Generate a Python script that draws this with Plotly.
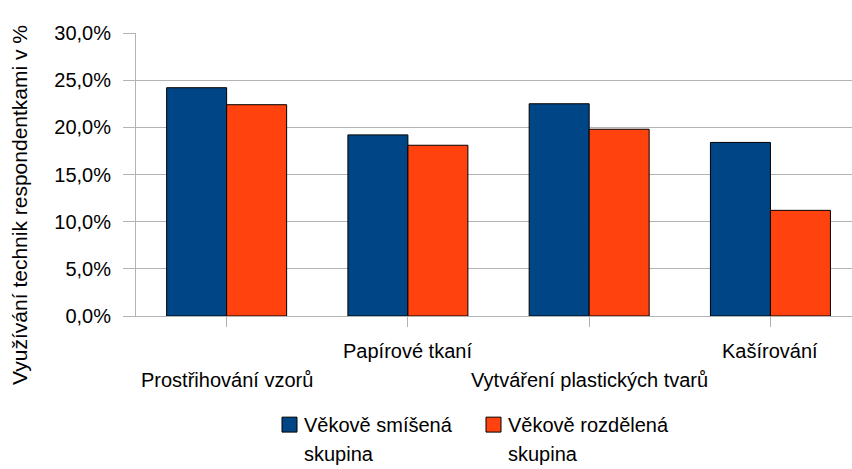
import plotly.graph_objects as go

categories = ["Prostřihování vzorů", "Papírové tkaní", "Vytváření plastických tvarů", "Kašírování"]
series_names = ["Věkově smíšená skupina", "Věkově rozdělená skupina"]
legend_lines = [["Věkově smíšená", "skupina"], ["Věkově rozdělená", "skupina"]]
mixed = [24.2, 19.2, 22.5, 18.4]
split = [22.4, 18.1, 19.8, 11.2]
colors = ["#004586", "#ff420e"]
y_title = "Využívání technik respondentkami v %"

FONT = "Liberation Sans, Arial, sans-serif"

# plot area geometry (pixels)
L, T, B, W, H = 136, 32.5, 316.5, 716, 284
def px(x):
    return (x - L) / W
def py(y):
    return (B - y) / H

fig = go.Figure()
for name, vals, col in zip(series_names, [mixed, split], colors):
    fig.add_trace(go.Bar(
        x=list(range(len(categories))), y=vals, name=name,
        marker=dict(color=col, line=dict(color="#000000", width=1)),
        showlegend=False,
    ))

annotations = [dict(text=y_title, textangle=-90, xref="paper", yref="paper",
                    x=px(20), y=py(205), xanchor="center", yanchor="middle",
                    showarrow=False, font=dict(size=21, family=FONT))]
# staggered category labels
for i, c in enumerate(categories):
    row_y = 381 if i % 2 == 0 else 352
    annotations.append(dict(text=c, xref="x", yref="paper", x=i, y=py(row_y),
                            xanchor="center", yanchor="middle", showarrow=False,
                            font=dict(size=20, family=FONT)))

shapes = []
legend_x = [282, 486]
for k, (lines, col) in enumerate(zip(legend_lines, colors)):
    x0 = legend_x[k]
    shapes.append(dict(type="rect", xref="paper", yref="paper",
                       x0=px(x0), x1=px(x0 + 15), y0=py(433), y1=py(418),
                       fillcolor=col, line=dict(color="#000000", width=1)))
    for j, ln in enumerate(lines):
        annotations.append(dict(text=ln, xref="paper", yref="paper",
                                x=px(x0 + 20), y=py(426 + 29 * j),
                                xanchor="left", yanchor="middle", showarrow=False,
                                font=dict(size=20, family=FONT)))

fig.update_layout(
    width=852, height=469,
    margin=dict(l=136, r=0, t=32.5, b=152.5, autoexpand=False),
    paper_bgcolor="white", plot_bgcolor="white",
    barmode="group", bargap=0.338, bargroupgap=0,
    separators=", ",
    font=dict(family=FONT, size=20, color="#000000"),
    showlegend=False,
    annotations=annotations,
    shapes=shapes,
)
fig.update_xaxes(
    tickmode="array", tickvals=list(range(len(categories))),
    ticktext=["" for _ in categories],
    range=[-0.5, 3.45], tickson="boundaries", ticks="outside", ticklen=10,
    tickcolor="#b3b3b3", showline=True, linecolor="#b3b3b3", showgrid=False,
)
fig.update_yaxes(
    range=[0, 30], dtick=5, tickformat=".1f", ticksuffix="%",
    ticks="outside", ticklen=12, tickcolor="#b3b3b3",
    showline=True, linecolor="#b3b3b3", gridcolor="#b3b3b3", gridwidth=1,
    zeroline=False, tickfont=dict(size=20), ticklabelstandoff=8,
)

fig.write_html("out.html", config={"displayModeBar": False},
               post_script="document.body.style.margin='0';document.body.style.overflow='hidden';")
